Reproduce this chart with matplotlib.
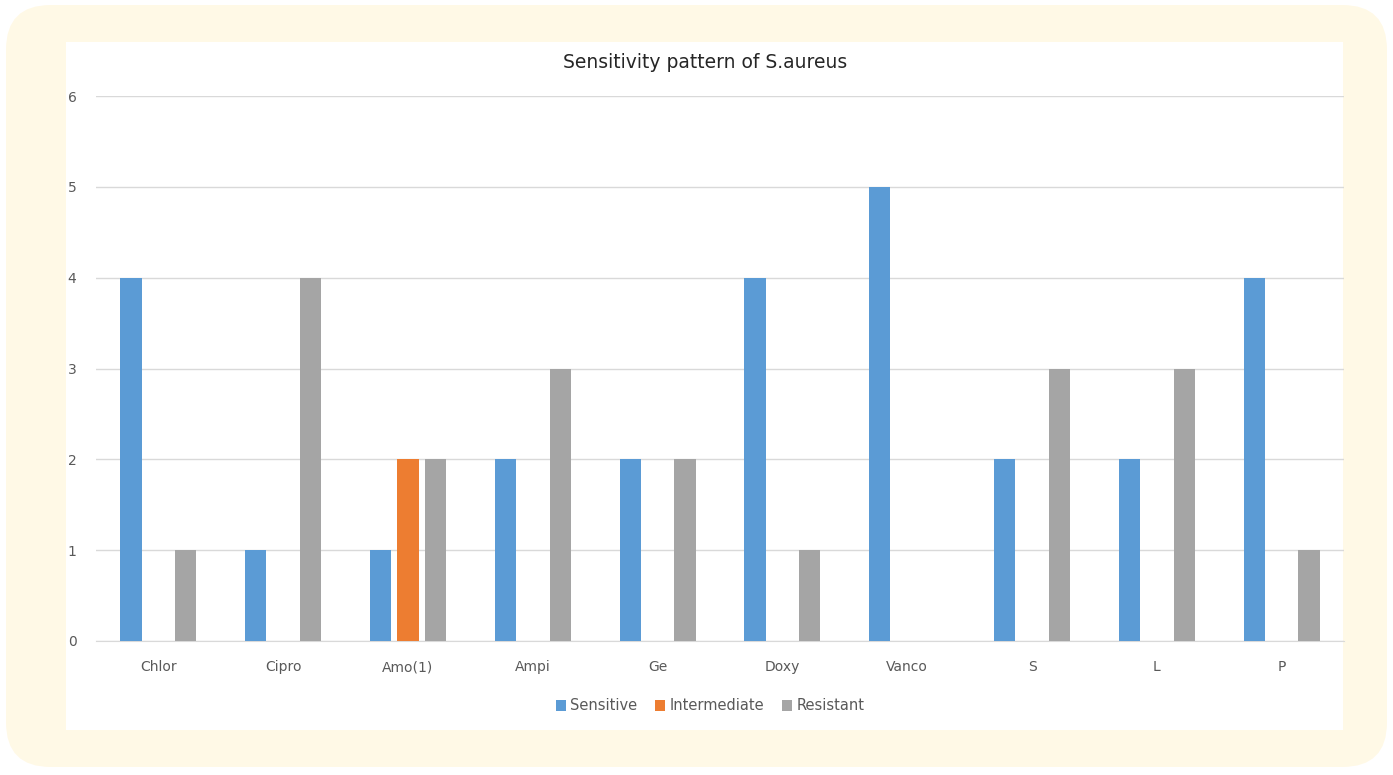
import numpy as np
import matplotlib.pyplot as plt
from matplotlib.patches import FancyBboxPatch, Rectangle

# data
drugs = ["Chlor", "Cipro", "Amo(1)", "Ampi", "Ge", "Doxy", "Vanco", "S", "L", "P"]
sensitive = [4, 1, 1, 2, 2, 4, 5, 2, 2, 4]
intermediate = [0, 0, 2, 0, 0, 0, 0, 0, 0, 0]
resistant = [1, 4, 2, 3, 2, 1, 0, 3, 3, 1]

series = [("Sensitive", sensitive, "#5B9BD5"),
          ("Intermediate", intermediate, "#ED7D31"),
          ("Resistant", resistant, "#A5A5A5")]

W, H = 1393, 775
fig = plt.figure(figsize=(W / 100, H / 100), dpi=100)
fig.patch.set_facecolor("white")

# cream rounded frame and white chart panel
fig.patches.append(FancyBboxPatch((6 / W, 8 / H), 1381 / W, 762 / H,
                                  boxstyle="round,pad=0,rounding_size=0.032",
                                  transform=fig.transFigure, facecolor="#FFF9E6",
                                  edgecolor="none", zorder=-2, mutation_aspect=W / H))
fig.patches.append(Rectangle((66 / W, 1 - 730 / H), (1343 - 66) / W, (730 - 42) / H,
                             transform=fig.transFigure, facecolor="white",
                             edgecolor="none", zorder=-1))

ax = fig.add_axes([96 / W, 1 - 641 / H, (1344 - 96) / W, (641 - 96) / H])
ax.set_facecolor("none")
ax.set_zorder(1)

x = np.arange(len(drugs))
pitch = 0.22
width = 0.17
for i, (name, vals, col) in enumerate(series):
    ax.bar(x + (i - 1) * pitch, vals, width, color=col, label=name, zorder=3)

ax.set_xlim(-0.5, len(drugs) - 0.5)
ax.set_ylim(0, 6)
ax.set_yticks(range(0, 7))
ax.set_xticks(x)
ax.set_xticklabels(drugs)
ax.yaxis.grid(True, color="#D9D9D9", linewidth=1, zorder=0)
for s in ["top", "right", "left"]:
    ax.spines[s].set_visible(False)
ax.spines["bottom"].set_color("#D9D9D9")
ax.tick_params(axis="both", length=0, colors="#595959", labelsize=10)
ax.tick_params(axis="x", pad=14)
ax.tick_params(axis="y", pad=14)

fig.text(705 / W, 1 - 62 / H, "Sensitivity pattern of S.aureus", ha="center", va="center",
         fontsize=13.5, color="#262626")

fig.legend(loc="center", bbox_to_anchor=(710 / W, 1 - 706 / H), ncol=3, frameon=False,
           fontsize=10.5, handlelength=0.7, handleheight=0.7, handletextpad=0.3,
           columnspacing=1.2, labelcolor="#595959")

fig.savefig("out.png", dpi=100)
